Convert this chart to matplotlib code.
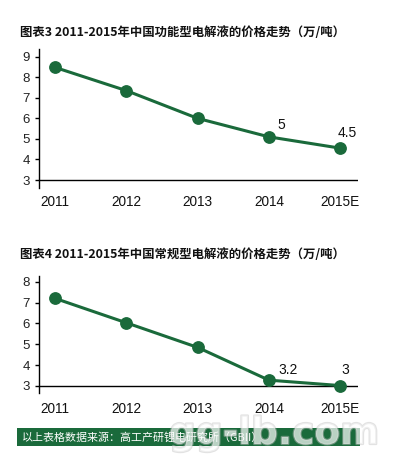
import matplotlib
matplotlib.use("Agg")
import matplotlib.pyplot as plt
import matplotlib.patheffects as pe
from matplotlib.patches import Rectangle

# ---- data ----
years = ["2011", "2012", "2013", "2014", "2015E"]
functional_price = [8.48, 7.35, 6.0, 5.1, 4.55]
functional_labels = ["", "", "", "5", "4.5"]
conventional_price = [7.2, 6.03, 4.85, 3.28, 3.02]
conventional_labels = ["", "", "", "3.2", "3"]
title_top = "图表3 2011-2015年中国功能型电解液的价格走势（万/吨）"
title_bottom = "图表4 2011-2015年中国常规型电解液的价格走势（万/吨）"
source_text = "以上表格数据来源：高工产研锂电研究所（GBII）"
watermark = "gg-lb.com"
top_ticks = [3, 4, 5, 6, 7, 8, 9]
bottom_ticks = [3, 4, 5, 6, 7, 8]

GREEN = "#1a6a3b"
W, H = 394, 455
CJK = ["Noto Sans CJK SC", "DejaVu Sans"]
LAT = ["Liberation Sans", "DejaVu Sans"]

fig = plt.figure(figsize=(W / 100, H / 100), dpi=100)
fig.patch.set_facecolor("white")


def px_box(x0, y0, x1, y1):
    return [x0 / W, 1 - y1 / H, (x1 - x0) / W, (y1 - y0) / H]


def draw_panel(rect, values, labels, ticks, ylim, offsets, xpad):
    ax = fig.add_axes(rect)
    x = list(range(len(years)))
    ax.plot(x, values, color=GREEN, lw=2.2, marker="o", ms=8.2,
            mfc=GREEN, mec=GREEN, zorder=3, clip_on=False)
    ax.axhline(3, color="black", lw=1.0, zorder=2)
    ax.set_xlim(-0.225, 4.25)
    ax.set_ylim(*ylim)
    ax.set_yticks(ticks)
    ax.set_yticklabels([str(t) for t in ticks], fontfamily=LAT, fontsize=9.5,
                       color="#222222")
    ax.set_xticks(x)
    ax.set_xticklabels(years, fontfamily=LAT, fontsize=9.8, color="#111111")
    ax.tick_params(axis="x", length=0, pad=xpad)
    ax.tick_params(axis="y", length=3, width=1.0, direction="out", pad=3.6)
    for s in ["top", "right", "bottom"]:
        ax.spines[s].set_visible(False)
    ax.spines["left"].set_linewidth(1.0)
    for i, (v, lab) in enumerate(zip(values, labels)):
        if lab:
            ax.annotate(lab, (i, v), xytext=offsets[lab], textcoords="offset points",
                        ha="center", va="center", fontfamily=LAT, fontsize=10,
                        color="#111111")
    return ax


draw_panel(px_box(39, 49, 358, 188), functional_price, functional_labels, top_ticks,
           (2.611, 9.375), {"5": (9.1, 8.4), "4.5": (4.8, 10.8)}, 5)
draw_panel(px_box(39, 276, 358, 393), conventional_price, conventional_labels, bottom_ticks,
           (2.664, 8.273), {"3.2": (13.5, 7.5), "3": (3.6, 11.0)}, 6.5)

fig.text(20 / W, 1 - 32 / H, title_top, fontfamily=CJK, fontweight="bold",
         fontsize=8.9, va="center", ha="left", color="#111111")
fig.text(20 / W, 1 - 255 / H, title_bottom, fontfamily=CJK, fontweight="bold",
         fontsize=8.9, va="center", ha="left", color="#111111")

fig.patches.append(Rectangle((17 / W, 1 - 446 / H), (360 - 17) / W, 18 / H,
                             transform=fig.transFigure, facecolor=GREEN,
                             edgecolor="none", zorder=1))
fig.text(22 / W, 1 - 437 / H, source_text, fontfamily=CJK, fontsize=7.9,
         color="white", va="center", ha="left", zorder=2)

wm = fig.text(274 / W, 1 - 434 / H, watermark, fontfamily=["DejaVu Sans"],
              fontweight="bold", fontsize=27, color="white", alpha=0.45,
              ha="center", va="center", zorder=3)
wm.set_path_effects([pe.withStroke(linewidth=1.6, foreground="#c0c0c0")])

fig.savefig("out.png", dpi=100, facecolor="white")
